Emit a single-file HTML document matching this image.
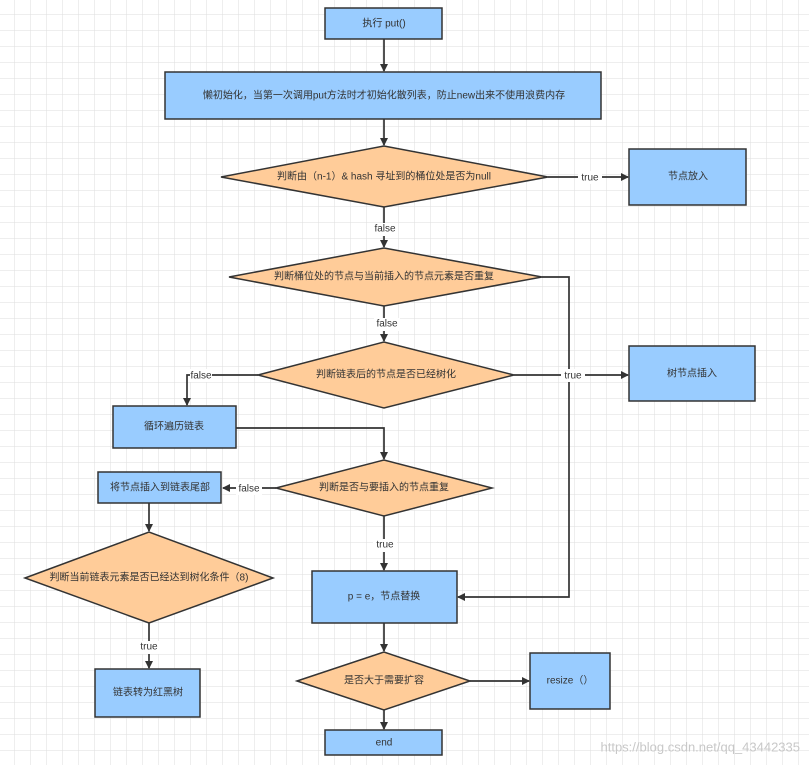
<!DOCTYPE html>
<html><head><meta charset="utf-8"><style>
html,body{margin:0;padding:0;background:#fff;}
svg{display:block;font-family:"Liberation Sans","Noto Sans CJK SC",sans-serif;}
</style></head><body>
<svg width="809" height="765" viewBox="0 0 809 765" xmlns="http://www.w3.org/2000/svg">
<defs>
<pattern id="g" width="16" height="16" patternUnits="userSpaceOnUse" x="-1" y="-1">
<path d="M16 0V16H0" fill="none" stroke="#dedede" stroke-width="1"/>
</pattern>
<marker id="a" markerWidth="8" markerHeight="8" refX="7" refY="4" orient="auto" markerUnits="userSpaceOnUse">
<path d="M0,0 L8,4 L0,8 Z" fill="#333"/>
</marker>
</defs>
<rect width="809" height="765" fill="url(#g)"/>
<g stroke="#333" stroke-width="1.7" fill="none">
<path d="M384 39V71" marker-end="url(#a)"/>
<path d="M384 119V145" marker-end="url(#a)"/>
<path d="M548 177H628" marker-end="url(#a)"/>
<path d="M384 207V247" marker-end="url(#a)"/>
<path d="M542 277H569V597H458" marker-end="url(#a)"/>
<path d="M384 306V341" marker-end="url(#a)"/>
<path d="M514 375H628" marker-end="url(#a)"/>
<path d="M258 375H187V405" marker-end="url(#a)"/>
<path d="M236 428H384V459" marker-end="url(#a)"/>
<path d="M276 488H223" marker-end="url(#a)"/>
<path d="M149 503V531" marker-end="url(#a)"/>
<path d="M149 623V668" marker-end="url(#a)"/>
<path d="M384 516V570" marker-end="url(#a)"/>
<path d="M384 623V651" marker-end="url(#a)"/>
<path d="M470 681H529" marker-end="url(#a)"/>
<path d="M384 710V729" marker-end="url(#a)"/>
</g>
<g stroke="#333" stroke-width="1.5">
<rect x="325" y="8" width="117" height="31" fill="#99ccff"/>
<rect x="165" y="72" width="436" height="47" fill="#99ccff"/>
<polygon points="221,177 384,146 548,177 384,207" fill="#ffcc99"/>
<rect x="629" y="149" width="117" height="56" fill="#99ccff"/>
<polygon points="229,277 384,248 542,277 384,306" fill="#ffcc99"/>
<polygon points="258,375 384,342 514,375 384,408" fill="#ffcc99"/>
<rect x="629" y="346" width="126" height="55" fill="#99ccff"/>
<rect x="113" y="406" width="123" height="42" fill="#99ccff"/>
<polygon points="276,488 384,460 492,488 384,516" fill="#ffcc99"/>
<rect x="98" y="472" width="123" height="31" fill="#99ccff"/>
<polygon points="25,578 149,532 273,578 149,623" fill="#ffcc99"/>
<rect x="95" y="669" width="105" height="48" fill="#99ccff"/>
<rect x="312" y="571" width="145" height="52" fill="#99ccff"/>
<polygon points="297,681 384,652 470,681 384,710" fill="#ffcc99"/>
<rect x="530" y="653" width="80" height="56" fill="#99ccff"/>
<rect x="325" y="730" width="117" height="25" fill="#99ccff"/>
</g>
<g font-size="10" fill="#333" text-anchor="middle" dominant-baseline="central">
<text x="384" y="24">执行 put()</text>
<text x="384" y="96">懒初始化，当第一次调用put方法时才初始化散列表，防止new出来不使用浪费内存</text>
<text x="384" y="177">判断由（n-1）&amp; hash 寻址到的桶位处是否为null</text>
<text x="688" y="177">节点放入</text>
<text x="384" y="277">判断桶位处的节点与当前插入的节点元素是否重复</text>
<text x="386" y="375">判断链表后的节点是否已经树化</text>
<text x="692" y="374">树节点插入</text>
<text x="174" y="427">循环遍历链表</text>
<text x="384" y="488">判断是否与要插入的节点重复</text>
<text x="160" y="488">将节点插入到链表尾部</text>
<text x="149" y="578">判断当前链表元素是否已经达到树化条件（8)</text>
<text x="148" y="693">链表转为红黑树</text>
<text x="384" y="597">p = e，节点替换</text>
<text x="384" y="681">是否大于需要扩容</text>
<text x="570" y="681">resize（）</text>
<text x="384" y="743">end</text>
</g>
<g font-size="10" fill="#333" text-anchor="middle" dominant-baseline="central">
<rect x="578" y="171" width="24" height="13" fill="#fff"/><text x="590" y="178">true</text>
<rect x="372" y="223" width="26" height="13" fill="#fff"/><text x="385" y="229">false</text>
<rect x="374" y="318" width="26" height="13" fill="#fff"/><text x="387" y="324">false</text>
<rect x="561" y="369" width="24" height="13" fill="#fff"/><text x="573" y="376">true</text>
<rect x="190" y="369" width="22" height="13" fill="#fff"/><text x="201" y="376">false</text>
<rect x="236" y="482" width="26" height="13" fill="#fff"/><text x="249" y="489">false</text>
<rect x="373" y="539" width="24" height="13" fill="#fff"/><text x="385" y="545">true</text>
<rect x="137" y="641" width="24" height="13" fill="#fff"/><text x="149" y="647">true</text>
</g>
<text x="800" y="747" font-size="13" fill="#c8c8c8" text-anchor="end" dominant-baseline="central" font-family="Liberation Sans, sans-serif">https://blog.csdn.net/qq_43442335</text>
</svg>
</body></html>
